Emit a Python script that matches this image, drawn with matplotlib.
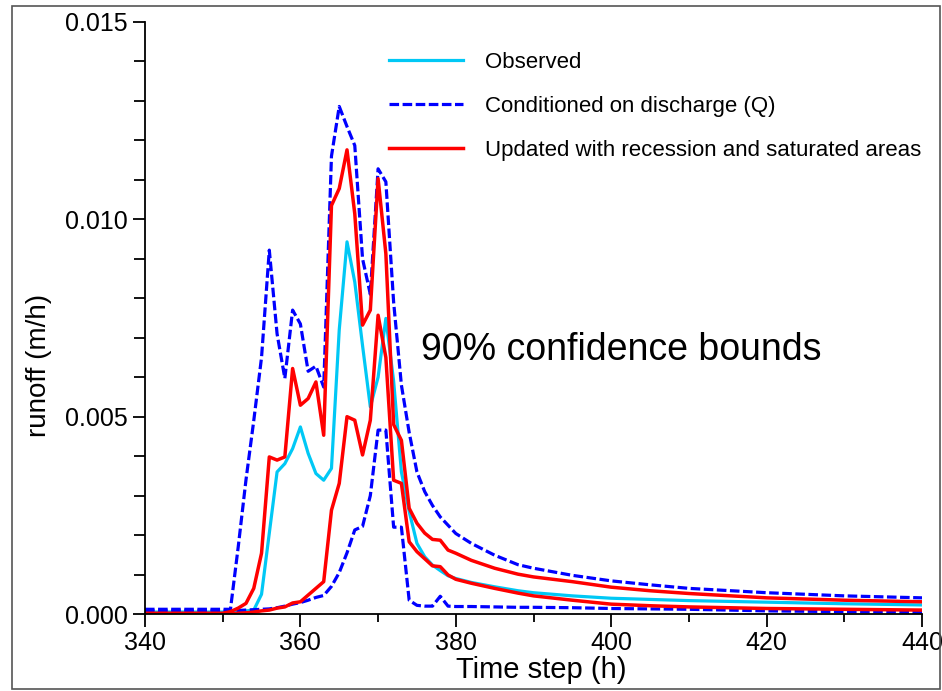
import matplotlib
matplotlib.use('Agg')
import matplotlib.pyplot as plt
from matplotlib.ticker import MultipleLocator, FormatStrFormatter
from matplotlib.patches import Rectangle

plt.rcParams['font.family'] = ['Liberation Sans', 'DejaVu Sans']

# time steps (h)
t = [340, 350, 351, 352, 353, 354, 355, 356, 357, 358, 359,
     360, 361, 362, 363, 364, 365, 366, 367, 368, 369,
     370, 371, 372, 373, 374, 375, 376, 377, 378, 379,
     380, 382, 385, 388, 390, 395, 400, 405, 410, 420, 430, 440]

# runoff values in 0.001 m/h
observed = [0.05, 0.05, 0.05, 0.06, 0.08, 0.10, 0.50, 2.05, 3.60, 3.81, 4.19,
            4.74, 4.07, 3.56, 3.39, 3.69, 7.20, 9.43, 8.41, 6.80, 5.25,
            6.00, 7.49, 5.90, 3.60, 2.60, 1.79, 1.45, 1.24, 1.10, 0.97,
            0.90, 0.80, 0.69, 0.59, 0.54, 0.46, 0.40, 0.37, 0.34, 0.30, 0.26, 0.23]

q_upper = [0.12, 0.12, 0.12, 1.70, 3.40, 4.90, 6.50, 9.22, 7.10, 5.97, 7.70,
           7.35, 6.15, 6.28, 5.75, 11.60, 12.86, 12.35, 11.87, 9.00, 8.10,
           11.28, 10.95, 7.90, 5.80, 4.60, 3.60, 3.10, 2.75, 2.46, 2.25,
           2.04, 1.79, 1.49, 1.25, 1.16, 0.98, 0.84, 0.74, 0.65, 0.54, 0.46, 0.41]

q_lower = [0.08, 0.08, 0.08, 0.09, 0.10, 0.11, 0.12, 0.13, 0.16, 0.20, 0.25,
           0.29, 0.35, 0.42, 0.47, 0.70, 1.05, 1.55, 2.13, 2.22, 3.00,
           4.66, 4.66, 2.20, 2.20, 0.35, 0.22, 0.20, 0.20, 0.45, 0.20,
           0.19, 0.19, 0.18, 0.17, 0.17, 0.16, 0.14, 0.13, 0.12, 0.08, 0.06, 0.04]

upd_upper = [0.02, 0.02, 0.06, 0.15, 0.27, 0.65, 1.54, 3.98, 3.90, 3.98, 6.22,
             5.29, 5.46, 5.88, 4.53, 10.35, 10.78, 11.76, 10.14, 7.32, 7.70,
             11.03, 9.13, 4.80, 4.40, 2.68, 2.30, 2.05, 1.89, 1.87, 1.62,
             1.54, 1.36, 1.16, 1.01, 0.94, 0.82, 0.68, 0.59, 0.52, 0.41, 0.35, 0.31]

upd_lower = [0.00, 0.00, 0.00, 0.02, 0.03, 0.05, 0.08, 0.10, 0.15, 0.18, 0.28,
             0.31, 0.48, 0.65, 0.82, 2.63, 3.31, 5.00, 4.91, 4.03, 4.91,
             7.57, 6.50, 3.39, 3.31, 1.83, 1.58, 1.40, 1.22, 1.20, 0.99,
             0.88, 0.78, 0.65, 0.53, 0.46, 0.35, 0.25, 0.21, 0.18, 0.14, 0.12, 0.10]

scale = 0.001
cyan = '#00C8F5'
blue = '#0000FF'
red = '#FF0000'
dash = (0, (3, 1.1))

fig = plt.figure(figsize=(9.42, 6.91), dpi=100)
ax = fig.add_axes([0.1539, 0.1114, 0.8249, 0.8568])

ax.plot(t, [v * scale for v in observed], color=cyan, lw=2.3, label='Observed')
ax.plot(t, [v * scale for v in q_upper], color=blue, lw=2.3, ls=dash,
        label='Conditioned on discharge (Q)')
ax.plot(t, [v * scale for v in q_lower], color=blue, lw=2.3, ls=dash)
ax.plot(t, [v * scale for v in upd_upper], color=red, lw=2.5,
        label='Updated with recession and saturated areas')
ax.plot(t, [v * scale for v in upd_lower], color=red, lw=2.5)

ax.set_xlim(340, 440)
ax.set_ylim(0, 0.015)
ax.xaxis.set_major_locator(MultipleLocator(20))
ax.xaxis.set_minor_locator(MultipleLocator(10))
ax.yaxis.set_major_locator(MultipleLocator(0.005))
ax.yaxis.set_minor_locator(MultipleLocator(0.001))
ax.yaxis.set_major_formatter(FormatStrFormatter('%.3f'))

for side in ['top', 'right']:
    ax.spines[side].set_visible(False)
for side in ['left', 'bottom']:
    ax.spines[side].set_linewidth(1.3)

ax.tick_params(which='major', direction='out', length=9, width=1.3, labelsize=18)
ax.tick_params(which='minor', direction='out', length=6, width=1.3)
ax.tick_params(axis='y', which='minor', length=8)

ax.set_xlabel('Time step (h)', fontsize=21)
ax.xaxis.set_label_coords(0.5097, -0.071)
ax.set_ylabel('runoff (m/h)', fontsize=20)
ax.yaxis.set_label_coords(-0.12, 0.42)

ax.text(375.5, 0.0067, '90% confidence bounds', fontsize=27, va='center', ha='left')

ax.legend(loc='upper left', bbox_to_anchor=(0.3915, 0.954), bbox_transform=fig.transFigure,
          frameon=False, fontsize=16, handlelength=3.35, handletextpad=1.0,
          labelspacing=1.04)

fig.patches.append(Rectangle((12 / 942, 2 / 691), 928 / 942, 683 / 691,
                             transform=fig.transFigure, fill=False,
                             edgecolor='#555555', lw=1.2))

fig.savefig('out.png', dpi=100)
